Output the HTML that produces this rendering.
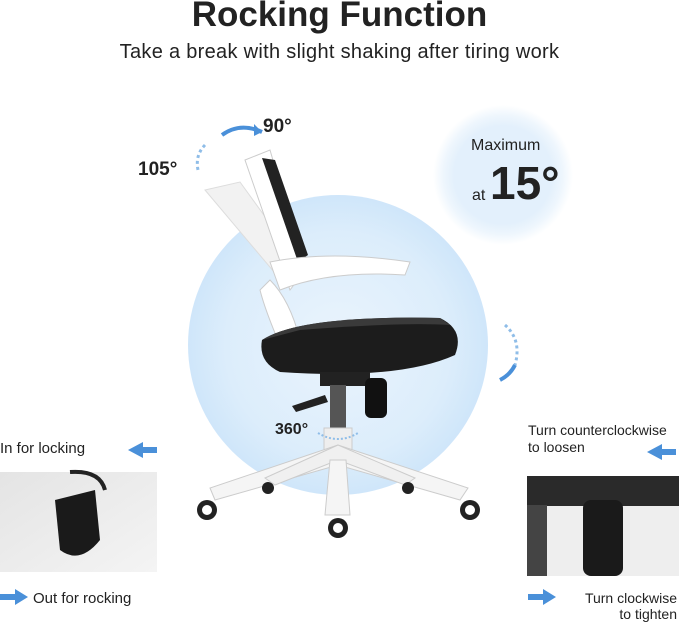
<!DOCTYPE html>
<html><head><meta charset="utf-8"><style>
body{margin:0;width:679px;height:626px;background:#fff;overflow:hidden;position:relative;font-family:"Liberation Sans",sans-serif;color:#222}
.t{position:absolute;white-space:nowrap}
</style></head><body>
<svg width="679" height="626" style="position:absolute;left:0;top:0">
<defs>
<radialGradient id="g1" cx="50%" cy="50%" r="50%"><stop offset="0" stop-color="#eaf4fd"/><stop offset="0.75" stop-color="#dcedfb"/><stop offset="1" stop-color="#cfe6fa"/></radialGradient>
<radialGradient id="g2" cx="50%" cy="50%" r="50%"><stop offset="0.7" stop-color="#e3f0fc"/><stop offset="0.85" stop-color="#eef6fd"/><stop offset="1" stop-color="#fff"/></radialGradient>
<linearGradient id="p1" x1="0" y1="0" x2="1" y2="1"><stop offset="0" stop-color="#e4e4e4"/><stop offset="1" stop-color="#f4f4f4"/></linearGradient>
</defs>
<circle cx="338" cy="345" r="150" fill="url(#g1)"/>
<circle cx="503" cy="175" r="70" fill="url(#g2)"/>
<path d="M205 190 L240 182 L300 265 L285 285 Z" fill="#f2f2f2" stroke="#ddd"/>
<path d="M245 160 L270 150 L305 270 L290 290 Z" fill="#fff" stroke="#ccc"/>
<path d="M262 158 L275 160 L308 255 L298 262 Z" fill="#222"/>
<path d="M270 262 Q330 250 410 262 L405 275 Q330 270 280 290 Z" fill="#fff" stroke="#ccc"/>
<path d="M270 280 Q290 300 300 340 L280 345 Q265 310 260 290 Z" fill="#fff" stroke="#ccc"/>
<path d="M262 340 Q300 315 440 318 Q465 330 455 355 Q400 380 280 372 Q258 362 262 340Z" fill="#1c1c1c"/>
<path d="M262 340 Q300 315 440 318 L450 325 Q400 322 300 330 Z" fill="#3a3a3a"/>
<rect x="320" y="372" width="50" height="14" fill="#222"/>
<rect x="365" y="378" width="22" height="40" rx="6" fill="#111"/>
<path d="M292 406 L325 395 L328 402 L296 412Z" fill="#222"/>
<rect x="330" y="385" width="16" height="50" fill="#555"/>
<rect x="324" y="428" width="28" height="22" fill="#eee" stroke="#ccc"/>
<path d="M338 445 L210 488 L215 500 L338 465 L460 500 L468 488Z" fill="#f5f5f5" stroke="#ccc"/>
<path d="M338 445 L265 478 L275 485 L338 460 L405 485 L415 478Z" fill="#f0f0f0" stroke="#ccc"/>
<path d="M330 460 L325 515 L350 515 L346 460Z" fill="#f5f5f5" stroke="#ccc"/>
<g fill="#222"><circle cx="207" cy="510" r="10"/><circle cx="470" cy="510" r="10"/><circle cx="338" cy="528" r="10"/><circle cx="268" cy="488" r="6"/><circle cx="408" cy="488" r="6"/></g>
<g fill="#fff"><circle cx="207" cy="510" r="5"/><circle cx="470" cy="510" r="5"/><circle cx="338" cy="528" r="5"/></g>
<path d="M222 135 Q240 122 262 132" fill="none" stroke="#4a90d9" stroke-width="4"/>
<path d="M262 132 l-8 -8 l0 12z" fill="#4a90d9"/>
<path d="M205 145 Q195 155 198 170" fill="none" stroke="#8fbde8" stroke-width="3" stroke-dasharray="3 3"/>
<path d="M505 325 Q522 340 515 365" fill="none" stroke="#8fbde8" stroke-width="3" stroke-dasharray="3 3"/>
<path d="M515 365 Q510 375 500 380" fill="none" stroke="#4a90d9" stroke-width="4"/>
<path d="M318 433 Q338 445 358 433" fill="none" stroke="#8fbde8" stroke-width="2" stroke-dasharray="2 2"/>
<!-- side arrows -->
<path d="M128 450 L143 442 L143 447 L157 447 L157 453 L143 453 L143 458Z" fill="#4a90d9"/>
<path d="M0 594 L15 594 L15 589 L28 597 L15 605 L15 600 L0 600Z" fill="#4a90d9"/>
<path d="M647 452 L662 444 L662 449 L676 449 L676 455 L662 455 L662 460Z" fill="#4a90d9"/>
<path d="M528 594 L543 594 L543 589 L556 597 L543 605 L543 600 L528 600Z" fill="#4a90d9"/>
<rect x="0" y="472" width="157" height="100" fill="url(#p1)"/>
<path d="M70 472 Q100 470 105 490" fill="none" stroke="#222" stroke-width="4"/>
<path d="M55 500 L95 490 L100 540 Q80 565 60 550Z" fill="#1a1a1a"/>
<rect x="527" y="476" width="152" height="100" fill="#eee"/>
<rect x="527" y="476" width="152" height="30" fill="#2a2a2a"/>
<rect x="583" y="500" width="40" height="76" rx="8" fill="#1a1a1a"/>
<rect x="527" y="505" width="20" height="71" fill="#444"/>
</svg>
<div class="t" style="left:0;width:679px;text-align:center;top:-5px;font-size:35px;font-weight:bold">Rocking Function</div>
<div class="t" style="left:0;width:679px;text-align:center;top:41px;font-size:20px;letter-spacing:0.3px">Take a break with slight shaking after tiring work</div>
<div class="t" style="left:263px;top:116px;font-size:19px;font-weight:bold">90°</div>
<div class="t" style="left:138px;top:159px;font-size:19px;font-weight:bold">105°</div>
<div class="t" style="left:471px;top:137px;font-size:16px">Maximum</div>
<div class="t" style="left:472px;top:187px;font-size:16px">at</div>
<div class="t" style="left:490px;top:156px;font-size:46px;font-weight:bold">15°</div>
<div class="t" style="left:275px;top:421px;font-size:16px;font-weight:bold">360°</div>
<div class="t" style="left:0;top:440px;font-size:15px">In for locking</div>
<div class="t" style="left:33px;top:590px;font-size:15px">Out for rocking</div>
<div class="t" style="left:528px;top:422px;font-size:14px">Turn counterclockwise</div>
<div class="t" style="left:528px;top:439px;font-size:14px">to loosen</div>
<div class="t" style="right:2px;top:590px;font-size:14px;text-align:right">Turn clockwise<br>to tighten</div>
</body></html>
